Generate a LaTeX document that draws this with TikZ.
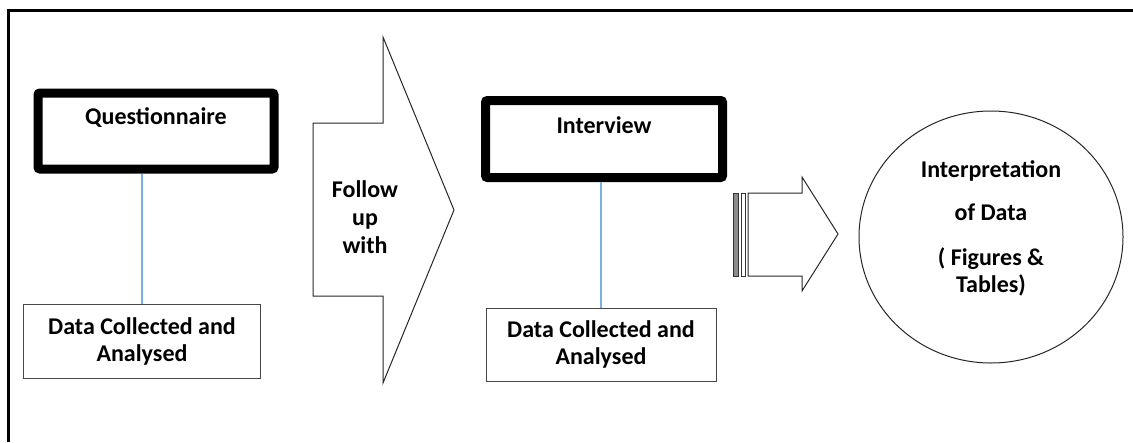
\documentclass[tikz,border=0pt]{standalone}
\usepackage{fontspec}
\setmainfont{Carlito}
\usetikzlibrary{shapes.geometric}
\definecolor{linkblue}{RGB}{125,175,225}
\definecolor{boxgray}{RGB}{70,70,70}
\tikzset{
  every node/.style={font=\fontsize{24}{27}\selectfont\bfseries, text=black},
  thickbox/.style={draw=black, line width=9pt, rounded corners=2pt, inner sep=0pt},
  databox/.style={draw=boxgray, line width=1pt, inner sep=0pt, align=center},
  link/.style={draw=linkblue, line width=1.6pt},
  outline/.style={draw=black!85, line width=1pt, line join=miter},
}
\begin{document}
\begin{tikzpicture}[x=1pt,y=-1pt]
\useasboundingbox (0,0) rectangle (1133,442);
% frame (top and left edges only)
\draw[line width=3pt] (8.5,442) -- (8.5,10.5) -- (1133,10.5);

% Questionnaire
\node[thickbox, minimum width=236pt, minimum height=76pt] (q) at (156,131) {};
\node (qt) at (156,118) {Questionnaire};
\node[databox, minimum width=237pt, minimum height=74pt] (d1) at (142,341) {Data Collected and\\Analysed};
\draw[link] (d1.north) -- (d1.north |- q.south);

% Follow up with arrow
\draw[outline] (313,123) -- (383,123) -- (383,37) -- (454,210) -- (383,383) -- (383,296) -- (313,296) -- cycle;
\node[align=center, font=\fontsize{24}{28}\selectfont\bfseries] (fu) at (365,217) {Follow\\up\\with};

% Interview
\node[thickbox, minimum width=237pt, minimum height=77pt] (iv) at (604,139) {};
\node (ivt) at (604,125) {Interview};
\node[databox, minimum width=230pt, minimum height=73pt] (d2) at (601,344.5) {Data Collected and\\Analysed};
\draw[link] (d2.north) -- (d2.north |- iv.south);

% striped block arrow
\draw[draw=black!80, fill=black!45, line width=0.8pt] (733,193) rectangle (738,276);
\draw[draw=black!80, line width=0.8pt] (741,193) rectangle (745,276);
\draw[outline] (748,193) -- (802,193) -- (802,177) -- (838,234) -- (802,291) -- (802,276) -- (748,276) -- cycle;

% Interpretation ellipse
\node[draw=black!85, line width=1pt, ellipse, minimum width=264pt, minimum height=252pt, inner sep=0pt] (e) at (991,237) {};
\node[align=center] (et) at (991,228) {Interpretation\\[16pt]of Data\\[18pt]( Figures \&\\Tables)};
\end{tikzpicture}
\end{document}
